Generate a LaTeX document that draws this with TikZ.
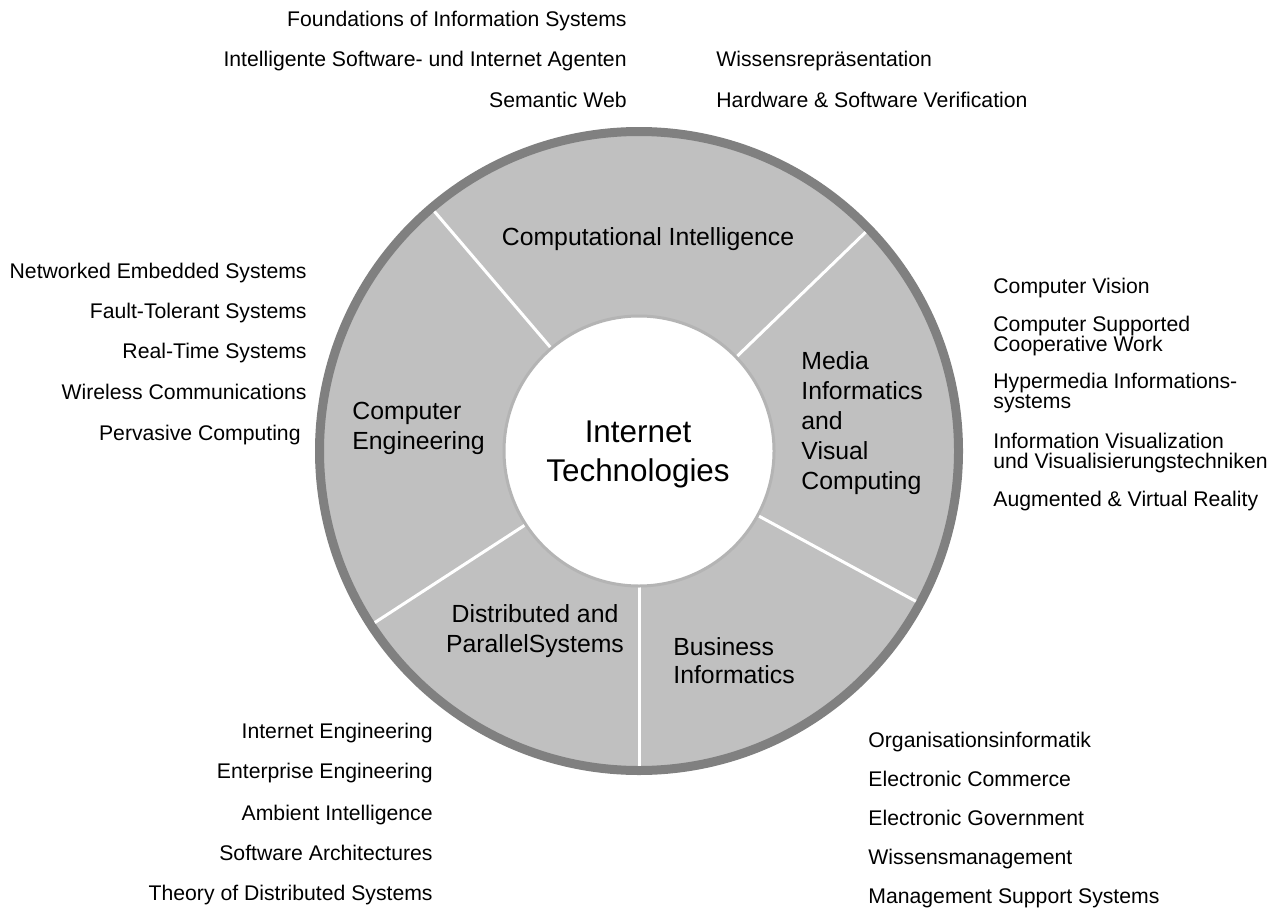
\documentclass[tikz,border=0pt]{standalone}
\usepackage{fontspec}
\setmainfont{Liberation Sans}
\definecolor{rimgray}{HTML}{808080}
\definecolor{segfill}{HTML}{C0C0C0}
\definecolor{coreedge}{HTML}{B4B4B4}
\begin{document}
\begin{tikzpicture}[x=0.5pt, y=-0.5pt,
    ring/.style={draw=rimgray, line width=4.5pt, fill=segfill},
    divider/.style={draw=white, line width=1.5pt},
    core/.style={draw=coreedge, line width=1.5pt, fill=white},
    seg/.style={inner sep=0pt, font=\fontsize{12.4}{15}\selectfont},
    hubtext/.style={inner sep=0pt, font=\fontsize{15.7}{19.5}\selectfont},
    item/.style={inner sep=0pt, font=\fontsize{10.6}{10}\selectfont}
  ]
  \fill[white] (0,0) rectangle (1278,915);
  \useasboundingbox (0,0) rectangle (1278,915);
  \coordinate (hub) at (639,451);
  % ring and segments
  \draw[ring] (hub) circle (319.5);
  \foreach \a in {-130.5,-44,28.5,90,-213}
    \draw[divider] ([shift={(\a:134)}]hub) -- ([shift={(\a:315)}]hub);
  \draw[core] (hub) circle (135);
  % centre
  \node[hubtext, anchor=base] (it1) at (638,442) {Internet};
  \node[hubtext, anchor=base] (it2) at ([yshift=-19.5pt]it1.base) {Technologies};
  % segment labels
  \node[seg, anchor=base] (ci) at (648,245) {Computational Intelligence};
  \node[seg, anchor=base west] (mv1) at (801,369) {Media};
  \node[seg, anchor=base west] (mv2) at ([yshift=-15pt]mv1.base west) {Informatics};
  \node[seg, anchor=base west] (mv3) at ([yshift=-15pt]mv2.base west) {and};
  \node[seg, anchor=base west] (mv4) at ([yshift=-15pt]mv3.base west) {Visual};
  \node[seg, anchor=base west] (mv5) at ([yshift=-15pt]mv4.base west) {Computing};
  \node[seg, anchor=base west] (ce1) at (352,419) {Computer};
  \node[seg, anchor=base west] (ce2) at ([yshift=-15pt]ce1.base west) {Engineering};
  \node[seg, anchor=base] (dp1) at (535,622) {Distributed and};
  \node[seg, anchor=base] (dp2) at ([yshift=-15pt]dp1.base) {ParallelSystems};
  \node[seg, anchor=base west] (bi1) at (673,655) {Business};
  \node[seg, anchor=base west] (bi2) at ([yshift=-14pt]bi1.base west) {Informatics};
  % topics: Computational Intelligence
  \foreach \y/\txt [count=\i] in {27/Foundations of Information Systems,
      67/Intelligente Software- und Internet Agenten, 107/Semantic Web}
    \node[item, anchor=base east] (cil\i) at (627,\y) {\txt};
  \foreach \y/\txt [count=\i] in {67/Wissensrepräsentation,
      107/Hardware \& Software Verification}
    \node[item, anchor=base west] (cir\i) at (716,\y) {\txt};
  % topics: Computer Engineering
  \foreach \y/\txt [count=\i] in {278/Networked Embedded Systems,
      318/Fault-Tolerant Systems, 358/Real-Time Systems,
      399/Wireless Communications}
    \node[item, anchor=base east] (cet\i) at (307,\y) {\txt};
  \node[item, anchor=base east] (cet5) at (301,440) {Pervasive Computing};
  % topics: Media Informatics
  \foreach \y/\txt [count=\i] in {293/Computer Vision, 331/Computer Supported,
      351/Cooperative Work, 388/Hypermedia Informations-, 408/systems,
      448/Information Visualization, 468/und Visualisierungstechniken,
      506/Augmented \& Virtual Reality}
    \node[item, anchor=base west] (mvt\i) at (993,\y) {\txt};
  % topics: Distributed and Parallel Systems
  \foreach \y/\txt [count=\i] in {738/Internet Engineering,
      778/Enterprise Engineering, 820/Ambient Intelligence,
      860/Software Architectures, 900/Theory of Distributed Systems}
    \node[item, anchor=base east] (dpt\i) at (433,\y) {\txt};
  % topics: Business Informatics
  \foreach \y/\txt [count=\i] in {747/Organisationsinformatik,
      786/Electronic Commerce, 825/Electronic Government,
      864/Wissensmanagement, 903/Management Support Systems}
    \node[item, anchor=base west] (bit\i) at (868,\y) {\txt};
\end{tikzpicture}
\end{document}
